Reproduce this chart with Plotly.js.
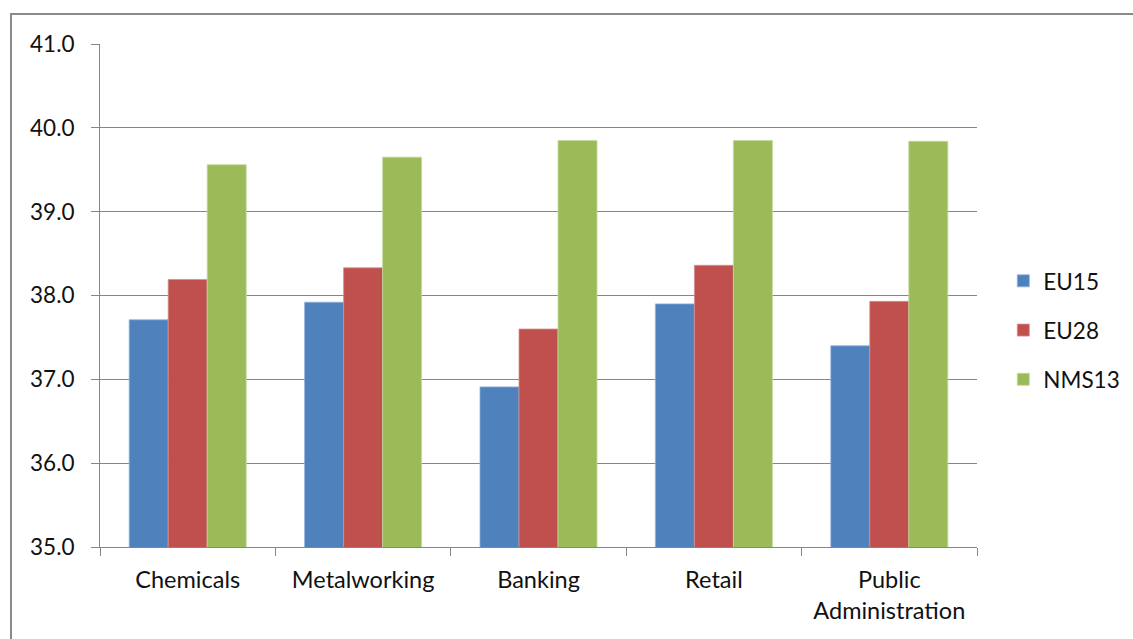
<!DOCTYPE html>
<html>
<head>
<meta charset="utf-8">
<script src="https://cdn.plot.ly/plotly-3.0.1.min.js"></script>
<style>
  html, body { margin: 0; padding: 0; background: #fff; }
  #wrap { position: relative; width: 1133px; height: 639px; overflow: hidden; }
  #frame { position: absolute; left: 10px; top: 13px; width: 1200px; height: 700px;
           border-left: 2px solid #8a8a8a; border-top: 2px solid #8a8a8a; pointer-events: none; z-index: 5; }
  #chart { position: absolute; left: 0; top: 0; width: 1133px; height: 639px; }
</style>
</head>
<body>
<div id="wrap">
  <div id="chart"></div>
  <div id="frame"></div>
</div>
<script>
const categories = ["Chemicals", "Metalworking", "Banking", "Retail", "Public<br>Administration"];
const seriesNames = ["EU15", "EU28", "NMS13"];
const eu15 = [37.71, 37.92, 36.91, 37.90, 37.40];
const eu28 = [38.19, 38.33, 37.60, 38.36, 37.93];
const nms13 = [39.56, 39.65, 39.85, 39.85, 39.84];
const colors = ["#4F81BD", "#C0504D", "#9BBB59"];
const edge = ["#8fb0d8", "#d88e8c", "#c3d89e"];

const values = [eu15, eu28, nms13];
const fontFam = "Lato, 'Open Sans', sans-serif";

const traces = values.map((v, i) => ({
  type: "bar",
  name: seriesNames[i],
  x: categories,
  y: v,
  legendgroup: "g" + i,
  marker: { color: colors[i], line: { color: edge[i], width: 0.8 } },
  hoverinfo: "x+y+name"
}));

const layout = {
  width: 1133,
  height: 639,
  margin: { l: 100, r: 156, t: 44, b: 92, autoexpand: false },
  paper_bgcolor: "#ffffff",
  plot_bgcolor: "#ffffff",
  barmode: "group",
  bargap: 0.333,
  bargroupgap: 0,
  font: { family: fontFam, size: 22, color: "#111111" },
  xaxis: {
    type: "category",
    showgrid: false,
    showline: true,
    linecolor: "#868686",
    linewidth: 1,
    ticks: "outside",
    tickson: "boundaries",
    ticklen: 8,
    tickcolor: "#868686",
    ticklabelstandoff: 12,
    tickfont: { family: fontFam, size: 23.5, color: "#111111" },
    automargin: false
  },
  yaxis: {
    range: [35, 41],
    dtick: 1,
    tick0: 35,
    tickformat: ".1f",
    showgrid: true,
    gridcolor: "#868686",
    gridwidth: 1,
    showline: true,
    linecolor: "#868686",
    linewidth: 1,
    ticks: "outside",
    ticklen: 8,
    tickcolor: "#868686",
    ticklabelstandoff: 12,
    zeroline: false,
    tickfont: { family: fontFam, size: 22.5, color: "#111111" },
    automargin: false
  },
  legend: {
    x: 1.030,
    xanchor: "left",
    y: 0.431,
    yanchor: "middle",
    tracegroupgap: 17,
    font: { family: fontFam, size: 22.5, color: "#111111" },
    bgcolor: "rgba(0,0,0,0)"
  },
  showlegend: true
};

Plotly.newPlot("chart", traces, layout, { displayModeBar: false, staticPlot: true });
</script>
</body>
</html>
